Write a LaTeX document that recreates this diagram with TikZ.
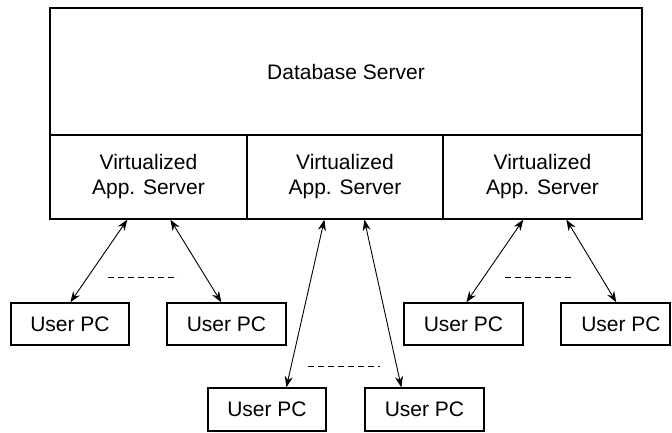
\documentclass[tikz,border=0pt]{standalone}
\usepackage{fontspec}
\setmainfont{Liberation Sans}
\usetikzlibrary{arrows.meta}
\begin{document}
\begin{tikzpicture}[x=1pt,y=-1pt,
  box/.style={draw,line width=1.3pt,rectangle,inner sep=0pt,align=center,
    font=\fontsize{21}{25}\selectfont},
  link/.style={line width=0.9pt,{Stealth[length=11pt,width=8pt]}-{Stealth[length=11pt,width=8pt]}},
  dots/.style={line width=0.9pt,dash pattern=on 6pt off 4pt}]
\useasboundingbox (0,0) rectangle (672,433);
\node[box,minimum width=592pt,minimum height=127pt] (db) at (346,71.5) {Database Server};
\node[box,minimum width=197pt,minimum height=84pt] (app1) at (148.5,177) {Virtualized\\App. Server};
\node[box,minimum width=196pt,minimum height=84pt] (app2) at (345,177) {Virtualized\\App. Server};
\node[box,minimum width=199pt,minimum height=84pt] (app3) at (542.5,177) {Virtualized\\App. Server};
\node[box,minimum width=118pt,minimum height=42pt] (pc1) at (70,324) {User PC};
\node[box,minimum width=119pt,minimum height=42pt] (pc2) at (226.5,324) {User PC};
\node[box,minimum width=119pt,minimum height=42pt] (pc3) at (463.5,324) {User PC};
\node[box,minimum width=109pt,minimum height=42pt] (pc4) at (615.5,324) {\hspace*{11pt}User PC};
\node[box,minimum width=118pt,minimum height=43pt] (pc5) at (267,409.5) {User PC};
\node[box,minimum width=119pt,minimum height=43pt] (pc6) at (424.5,409.5) {User PC};
\draw[link] ([xshift=78pt]app1.south west) -- ([xshift=60pt]pc1.north west);
\draw[link] ([xshift=121pt]app1.south west) -- ([xshift=55pt]pc2.north west);
\draw[link] ([xshift=78pt]app2.south west) -- ([xshift=79pt]pc5.north west);
\draw[link] ([xshift=118pt]app2.south west) -- ([xshift=37pt]pc6.north west);
\draw[link] ([xshift=81pt]app3.south west) -- ([xshift=63pt]pc3.north west);
\draw[link] ([xshift=124pt]app3.south west) -- ([xshift=56pt]pc4.north west);
\draw[dots] (108,277) -- (178,277);
\draw[dots] (308,366) -- (380,366);
\draw[dots] (505,277) -- (575,277);
\end{tikzpicture}
\end{document}
